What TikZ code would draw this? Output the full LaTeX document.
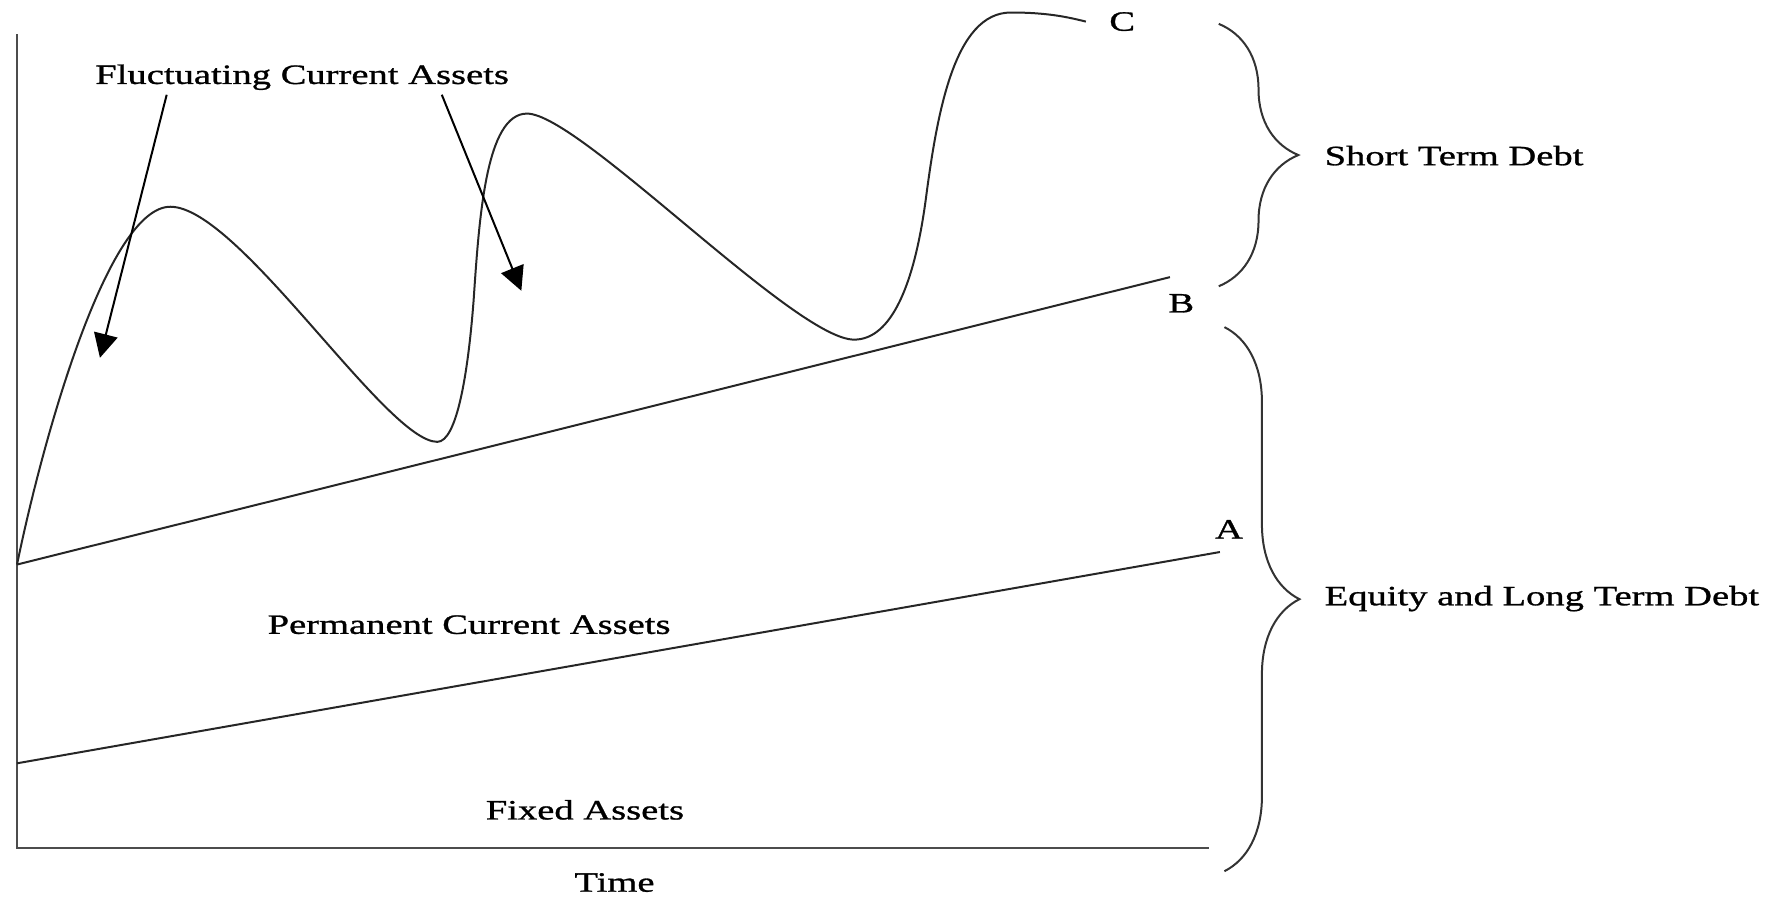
\documentclass[tikz,border=0pt]{standalone}
\usepackage{fontspec}
\setmainfont[FakeStretch=1.38, FakeBold=1]{Liberation Serif}
\usetikzlibrary{arrows.meta, calc, decorations.pathreplacing}

\begin{document}
\begin{tikzpicture}[
  x=0.01cm, y=-0.01cm,
  lbl/.style={font=\fontsize{7}{8.4}\selectfont, inner sep=1pt},
  ln/.style={line width=0.5pt, black!85},
  arr/.style={-{Triangle[length=6pt, width=6pt]}, line width=0.5pt},
  brc/.style={decorate, decoration={brace, amplitude=#1}, line width=0.5pt, black!80}
]
\useasboundingbox (0,0) rectangle (1568,790);

% Axes
\coordinate (top) at (15,30);
\coordinate (O)   at (15,747);
\coordinate (end) at (1064,747);
\draw[ln, black!70] (top) -- (O) -- (end);

% Labels
\node[lbl] (fca)  at (266,68)  {Fluctuating Current Assets};
\node[lbl] (pca)  at (413,550) {Permanent Current Assets};
\node[lbl] (fa)   at (515,713) {Fixed Assets};
\node[lbl] (time) at (541,777) {Time};
\node[lbl] (C)    at (988,19)  {C};
\node[lbl] (B)    at (1040,267) {B};
\node[lbl] (A)    at (1082,466) {A};
\node[lbl, anchor=west] (std)  at (1162,137) {Short Term Debt};
\node[lbl, anchor=west] (eltd) at (1162,527) {Equity and Long Term Debt};

% Permanent and total asset lines
\coordinate (a0) at (15,672);
\coordinate (a1) at (1074,486);
\coordinate (b0) at (15,497);
\coordinate (b1) at (1030,244);
\draw[ln] (a0) -- (a1);
\draw[ln] (b0) -- (b1);

% Fluctuating curve (ends at C)
\coordinate (c1) at (956,19);
\draw[ln] (b0) .. controls (38,385) and (95,182) .. (150,182)
  .. controls (210,182) and (340,389) .. (385,389)
  .. controls (402,389) and (412,330) .. (417,264)
  .. controls (422,190) and (428,100) .. (464,100)
  .. controls (510,100) and (700,299) .. (752,299)
  .. controls (785,299) and (805,250) .. (815,176)
  .. controls (825,100) and (840,11) .. (890,11)
  .. controls (922,11) and (940,15) .. (c1);

% Arrows from the label
\coordinate (f1) at (88,315);
\coordinate (f2) at (459,256);
\draw[arr] ($(fca.south west)!0.18!(fca.south east)$) -- (f1);
\draw[arr] ($(fca.south west)!0.83!(fca.south east)$) -- (f2);

% Braces
\draw[brc=0.7cm]  (1073,21) -- (1073,252);
\draw[brc=0.66cm] (1078,288) -- (1078,767);

\end{tikzpicture}
\end{document}
